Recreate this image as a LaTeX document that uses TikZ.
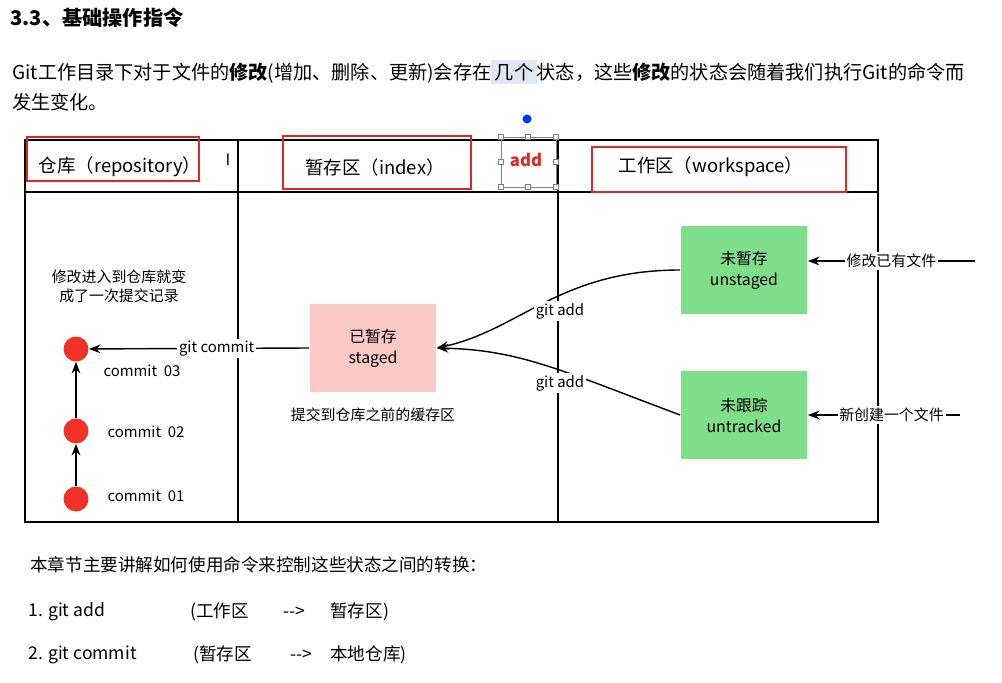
\documentclass[tikz,border=0pt]{standalone}
\usepackage{fontspec}
\setmainfont{Noto Sans CJK SC}
\usetikzlibrary{arrows.meta}
\definecolor{stageGreen}{RGB}{126,222,138}
\definecolor{stagePink}{RGB}{252,202,198}
\definecolor{markRed}{RGB}{220,40,40}
\definecolor{dotRed}{RGB}{240,50,40}
\definecolor{hiBlue}{RGB}{225,232,245}
\tikzset{
    >=Stealth,
    px/.style={x=0.02cm,y=-0.02cm},
    state/.style={draw=none,minimum width=2.54cm,minimum height=1.76cm,align=center,font=\fontsize{9}{12}\selectfont},
    redbox/.style={draw=markRed,thick},
    cdot/.style={circle,fill=dotRed,minimum size=0.5cm,inner sep=0pt},
    lbl/.style={font=\fontsize{8.5}{11}\selectfont,inner sep=1pt},
    cut/.style={lbl,fill=white},
    head/.style={font=\fontsize{10.5}{13}\selectfont},
    txt/.style={font=\fontsize{10}{13}\selectfont,anchor=west,inner sep=0pt}
}
\begin{document}
\begin{tikzpicture}[px]
  \useasboundingbox (0,0) rectangle (1002,683);
  % page text
  \node[anchor=west,inner sep=0pt,font=\bfseries\fontsize{11.5}{14}\selectfont] (title) at (10,18) {3.3、基础操作指令};
  \node[txt,font=\fontsize{10.9}{14}\selectfont] (par1) at (12,72) {Git工作目录下对于文件的\textbf{修改}(增加、删除、更新)会存在{\setlength{\fboxsep}{2pt}\colorbox{hiBlue}{几个}}状态，这些\textbf{修改}的状态会随着我们执行Git的命令而};
  \node[txt,font=\fontsize{10.9}{14}\selectfont] (par2) at (12,102) {发生变化。};
  \fill[blue!80!cyan] (527,119) circle (4.5);

  % table frame
  \draw[thick] (25,140) rectangle (878,522);
  \draw[thick] (25,192) -- (878,192);
  \draw[thick] (238,140) -- (238,522);
  \draw[thick] (558,140) -- (558,522);

  % headers
  \node[head] (repo) at (120,167) {仓库（repository）};
  \node[head] (index) at (375,167) {暂存区（index）};
  \node[head] (work) at (711,167) {工作区（workspace）};
  \node[font=\bfseries\fontsize{9.5}{12}\selectfont,text=markRed] (addmark) at (526,160) {add};
  \node at (228,160) {\fontsize{9}{11}\selectfont I};
  \draw[redbox] (27,137) rectangle (199,181);
  \draw[redbox] (283,136) rectangle (471,189);
  \draw[redbox] (592,147) rectangle (846,192);
  \draw[gray] (501,137) rectangle (556,187);
  \foreach \p in {(501,137),(556,137),(501,187),(556,187),(528,137),(528,187),(501,162),(556,162)}
    \filldraw[fill=white,draw=gray] \p ++(-2.5,-2.5) rectangle ++(5,5);

  % states
  \node[state,fill=stageGreen] (unstaged) at (744,270) {未暂存\\unstaged};
  \node[state,fill=stageGreen] (untracked) at (744,415) {未跟踪\\untracked};
  \node[state,fill=stagePink] (staged) at (373,348) {已暂存\\staged};
  \node[lbl] (cache) at (373,415) {提交到仓库之前的缓存区};

  % inputs
  \coordinate (inA) at (975,261);
  \coordinate (inB) at (960,415);
  \draw[->,thick] (inA) -- (unstaged.east |- inA) node[cut,pos=0.5] {修改已有文件};
  \draw[->,thick] (inB) -- (untracked.east |- inB) node[cut,pos=0.45] {新创建一个文件};

  % git add
  \draw[->,thick] (unstaged.west) .. controls (560,270) and (520,330) .. (staged.east);
  \draw[->,thick] (untracked.west) .. controls (560,370) and (520,350) .. (staged.east);
  \node[cut] (addA) at (560,311) {git add};
  \node[cut] (addB) at (560,383) {git add};

  % commits
  \node[cdot] (c3) at (76,349) {};
  \node[cdot] (c2) at (76,431) {} edge[->,thick] (c3);
  \node[cdot] (c1) at (76,499) {} edge[->,thick] (c2);
  \draw[->,thick] (staged.west) -- (c3) node[cut,pos=0.42] {git commit};
  \node[lbl] at (142,371) {commit\ \ 03};
  \node[lbl] at (146,432) {commit\ \ 02};
  \node[lbl] at (146,496) {commit\ \ 01};
  \node[lbl,align=center] (note) at (119,286) {修改进入到仓库就变\\成了一次提交记录};

  % bottom text
  \node[txt] (intro) at (30,565) {本章节主要讲解如何使用命令来控制这些状态之间的转换：};
  \node[txt] (s1) at (28,612) {1. git add};
  \node[txt] at (190,612) {(工作区};
  \node[txt] at (283,612) {{-}{-}>};
  \node[txt] at (330,612) {暂存区)};
  \node[txt] (s2) at (28,655) {2. git commit};
  \node[txt] at (193,655) {(暂存区};
  \node[txt] at (290,655) {{-}{-}>};
  \node[txt] at (330,655) {本地仓库)};
\end{tikzpicture}
\end{document}
